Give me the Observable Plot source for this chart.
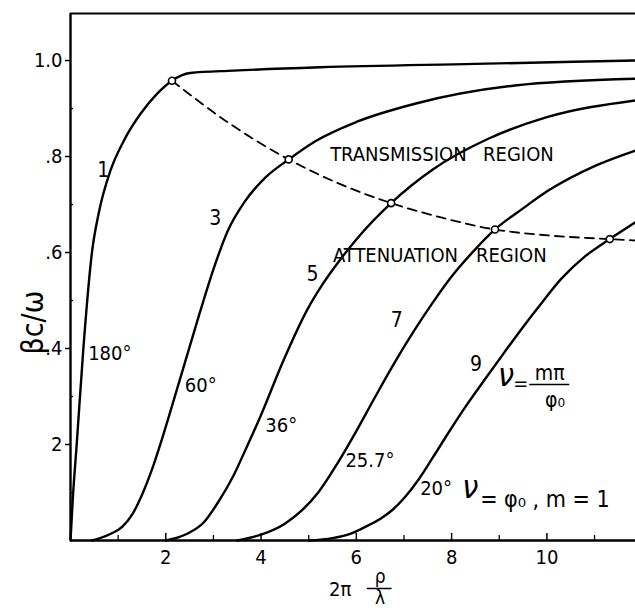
<!DOCTYPE html>
<html>
<head>
<meta charset="utf-8">
<script src="https://cdn.jsdelivr.net/npm/d3@7"></script>
<script src="https://cdn.jsdelivr.net/npm/@observablehq/plot@0.6"></script>
<style>
  html, body { margin: 0; padding: 0; background: #fff; }
  #chart svg { display: block; }
</style>
</head>
<body>
<div id="chart"></div>
<script>
// ---- axis ticks ----
const xTicks = [2, 4, 6, 8, 10];
const xTickLabels = ["2", "4", "6", "8", "10"];
const xMinor = [1, 3, 5, 7, 9, 11];
const yTicks = [0.2, 0.4, 0.6, 0.8, 1.0];
const yTickLabels = ["2", ".4", ".6", ".8", "1.0"];
const yMinor = [0.1, 0.3, 0.5, 0.7, 0.9];
const xDomain = [0, 11.86];
const yDomain = [0, 1.098];

// ---- curves (nu = m*pi/phi0) ----
const nuValues = [1, 3, 5, 7, 9];
const angleLabels = ["180°", "60°", "36°", "25.7°", "20°"];

const curve1X = [0, 0.05, 0.13, 0.27, 0.45, 0.59, 0.84, 1.12, 1.47, 1.82, 2.13, 2.51, 3.42, 5.24, 8.49, 11.86];
const curve1Y = [0, 0.09, 0.2, 0.4, 0.6, 0.681, 0.771, 0.833, 0.889, 0.931, 0.958, 0.974, 0.979, 0.986, 0.993, 1.0];

const curve3X = [0.45, 0.8, 1.1, 1.3, 1.5, 1.7, 1.9, 2.1, 2.4, 2.7, 3.0, 3.3, 3.65, 4.1, 4.58, 5.14, 6.0, 7.23, 9.33, 11.86];
const curve3Y = [0, 0.012, 0.03, 0.055, 0.095, 0.145, 0.205, 0.27, 0.37, 0.47, 0.565, 0.645, 0.705, 0.757, 0.794, 0.832, 0.872, 0.91, 0.948, 0.962];

const curve5X = [2.0, 2.45, 2.8, 3.1, 3.42, 3.7, 3.98, 4.47, 4.96, 5.3, 5.66, 6.04, 6.73, 7.62, 8.77, 10.0, 11.86];
const curve5Y = [0, 0.014, 0.038, 0.08, 0.135, 0.195, 0.257, 0.375, 0.479, 0.535, 0.585, 0.632, 0.703, 0.774, 0.837, 0.882, 0.917];

const curve7X = [3.5, 4.0, 4.5, 4.85, 5.2, 5.6, 6.0, 6.4, 6.8, 7.2, 7.6, 8.0, 8.5, 8.91, 9.5, 10.03, 11.0, 11.86];
const curve7Y = [0, 0.012, 0.035, 0.062, 0.1, 0.16, 0.228, 0.3, 0.37, 0.435, 0.495, 0.55, 0.607, 0.648, 0.692, 0.729, 0.78, 0.8125];

const curve9X = [5.0, 5.5, 5.9, 6.2, 6.5, 6.75, 7.0, 7.3, 7.6, 7.93, 8.3, 8.7, 9.1, 9.5, 9.89, 10.3, 10.8, 11.32, 11.86];
const curve9Y = [0, 0.005, 0.015, 0.029, 0.045, 0.063, 0.088, 0.126, 0.172, 0.224, 0.28, 0.336, 0.391, 0.445, 0.495, 0.545, 0.592, 0.628, 0.663];

// ---- dashed boundary between transmission / attenuation ----
const boundaryX = [2.13, 3.35, 4.58, 5.65, 6.73, 7.82, 8.91, 10.1, 11.32, 11.86];
const boundaryY = [0.958, 0.868, 0.794, 0.743, 0.703, 0.672, 0.648, 0.635, 0.628, 0.625];
const markerX = [2.13, 4.58, 6.73, 8.91, 11.32];
const markerY = [0.958, 0.794, 0.703, 0.648, 0.628];

// ---- label positions ----
const nuLabelX = [0.69, 3.04, 5.08, 6.85, 8.51];
const nuLabelY = [0.771, 0.671, 0.554, 0.458, 0.368];
const angleLabelX = [0.37, 2.40, 4.09, 5.77, 7.34];
const angleLabelY = [0.39, 0.323, 0.24, 0.167, 0.108];
const regionWords = ["TRANSMISSION", "REGION", "ATTENUATION", "REGION"];
const regionX = [5.45, 8.66, 5.51, 8.51];
const regionY = [0.804, 0.804, 0.594, 0.594];

const curveXs = [curve1X, curve3X, curve5X, curve7X, curve9X];
const curveYs = [curve1Y, curve3Y, curve5Y, curve7Y, curve9Y];
const curveRows = nuValues.flatMap((nu, k) => curveXs[k].map((x, i) => ({nu, x, y: curveYs[k][i]})));
const boundaryRows = boundaryX.map((x, i) => ({x, y: boundaryY[i]}));
const markerRows = markerX.map((x, i) => ({x, y: markerY[i]}));
const nuLabelRows = nuValues.map((nu, i) => ({t: String(nu), x: nuLabelX[i], y: nuLabelY[i]}));
const angleRows = angleLabels.map((t, i) => ({t, x: angleLabelX[i], y: angleLabelY[i]}));
const regionRows = regionWords.map((t, i) => ({t, x: regionX[i], y: regionY[i]}));

const FONT = "'Liberation Sans Narrow', 'DejaVu Sans Condensed', 'Liberation Sans', sans-serif";

const chart = Plot.plot({
  width: 635,
  height: 611,
  marginLeft: 70,
  marginRight: 0,
  marginTop: 13,
  marginBottom: 71,
  x: {domain: xDomain},
  y: {domain: yDomain},
  style: {fontFamily: FONT, fontSize: "20px", background: "#fff", color: "#000"},
  marks: [
    // frame: left, bottom, top
    Plot.ruleX([0], {stroke: "#000", strokeWidth: 2.4}),
    Plot.ruleY([0], {stroke: "#000", strokeWidth: 2.4}),
    Plot.ruleY([yDomain[1]], {stroke: "#000", strokeWidth: 2.2}),
    // axes
    Plot.axisY({ticks: yTicks, tickFormat: (d) => yTickLabels[yTicks.indexOf(d)], tickSize: 5, tickPadding: 3, label: null, strokeWidth: 1.5, fontSize: 20}),
    Plot.axisX({ticks: xTicks, tickFormat: (d) => xTickLabels[xTicks.indexOf(d)], tickSize: 0, tickPadding: 9, label: null, fontSize: 20}),
    Plot.tickX(xTicks, {x: d => d, insetTop: 520, stroke: "#000", strokeWidth: 1.5}),
    Plot.tickX(xMinor, {x: d => d, insetTop: 522, stroke: "#000", strokeWidth: 1.3}),
    Plot.tickY(yMinor, {y: d => d, insetRight: 562, stroke: "#000", strokeWidth: 1.3}),
    // curves
    Plot.line(curveRows, {x: "x", y: "y", z: "nu", curve: "monotone-x", stroke: "#000", strokeWidth: 2.4}),
    Plot.line(boundaryRows, {x: "x", y: "y", curve: "monotone-x", stroke: "#000", strokeWidth: 1.8, strokeDasharray: "9,6"}),
    Plot.dot(markerRows, {x: "x", y: "y", r: 3.5, stroke: "#000", fill: "#fff", strokeWidth: 1.6}),
    // labels
    Plot.text(nuLabelRows, {x: "x", y: "y", text: "t", fontSize: 21}),
    Plot.text(angleRows, {x: "x", y: "y", text: "t", textAnchor: "start", fontSize: 20}),
    Plot.text(regionRows, {x: "x", y: "y", text: "t", textAnchor: "start", fontSize: 20}),
    // nu = m pi / phi0 annotation
    Plot.text(["ν"], {x: 9.14, y: 0.344, fontSize: 32, fontStyle: "italic"}),
    Plot.text(["="], {x: 9.45, y: 0.327, fontSize: 20}),
    Plot.text(["mπ"], {x: 10.06, y: 0.348, fontSize: 21}),
    Plot.ruleY([0.325], {x1: 9.64, x2: 10.48, stroke: "#000", strokeWidth: 1.5}),
    Plot.text(["φ₀"], {x: 10.17, y: 0.292, fontSize: 21}),
    // nu = phi0, m = 1 annotation
    Plot.text(["ν"], {x: 8.39, y: 0.11, fontSize: 32, fontStyle: "italic"}),
    Plot.text(["= φ₀ , m = 1"], {x: 8.6, y: 0.085, textAnchor: "start", fontSize: 23}),
    // axis titles
    Plot.text(["βc/ω"], {x: -0.776, y: 0.454, rotate: -90, fontSize: 30}),
    Plot.text(["2π"], {x: 5.66, y: -0.102, fontSize: 20}),
    Plot.text(["ρ"], {x: 6.5, y: -0.076, fontSize: 19}),
    Plot.ruleY([-0.1], {x1: 6.23, x2: 6.75, stroke: "#000", strokeWidth: 1.5}),
    Plot.text(["λ"], {x: 6.5, y: -0.12, fontSize: 19})
  ]
});
document.getElementById("chart").append(chart);
</script>
</body>
</html>
